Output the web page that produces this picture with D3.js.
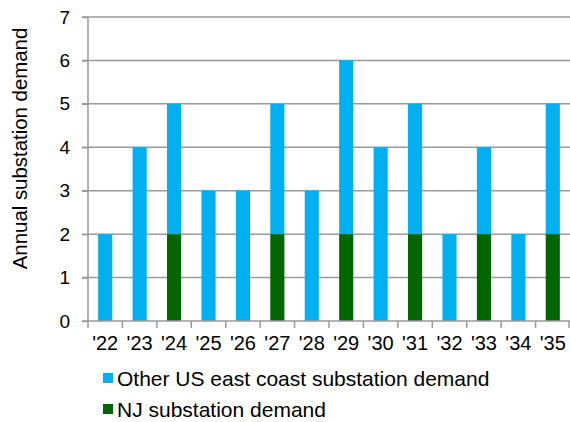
<!DOCTYPE html>
<html><head><meta charset="utf-8">
<script src="https://cdn.jsdelivr.net/npm/d3@7"></script>
<style>body{margin:0;background:#fff;} svg{display:block;font-family:"Liberation Sans",Arial,sans-serif;}</style>
</head><body>
<svg id="c" width="570" height="422"></svg>
<script>
const categories = ["'22","'23","'24","'25","'26","'27","'28","'29","'30","'31","'32","'33","'34","'35"];
const njDemand    = [0,0,2,0,0,2,0,2,0,2,0,2,0,2];
const otherDemand = [2,4,3,3,3,3,3,4,4,3,2,2,2,3];
const yTicks = [0,1,2,3,4,5,6,7];
const seriesNames = ["Other US east coast substation demand","NJ substation demand"];
const colors = {nj:"#006600", other:"#00B0F0"};

const svg = d3.select("#c");
const m = {left:88, right:570, top:17, bottom:321};
const x = d3.scaleBand().domain(categories).range([m.left, m.right]).paddingInner(0.59).paddingOuter(0.295);
const xb = d3.scaleBand().domain(categories).range([m.left, m.right]);
const y = d3.scaleLinear().domain([0,7]).range([m.bottom, m.top]);
const grid = "#9a9a9a";

// gridlines
svg.append("g").selectAll("line").data(yTicks.filter(d=>d>0)).join("line")
  .attr("x1", m.left-6).attr("x2", m.right).attr("y1", d=>y(d)).attr("y2", d=>y(d))
  .attr("stroke",grid).attr("stroke-width",1.5);

// bars
const data = categories.map((c,i)=>({c, nj:njDemand[i], other:otherDemand[i]}));
const stack = d3.stack().keys(["nj","other"])(data);
svg.append("g").selectAll("g").data(stack).join("g")
  .attr("fill", d=>colors[d.key])
  .selectAll("rect").data(d=>d).join("rect")
  .attr("x", d=>x(d.data.c)).attr("width", x.bandwidth())
  .attr("y", d=>y(d[1])).attr("height", d=>y(d[0])-y(d[1]));

// y axis
const ya = svg.append("g").attr("transform",`translate(${m.left},0)`)
  .call(d3.axisLeft(y).tickValues(yTicks).tickFormat(d3.format("d")).tickSize(6).tickPadding(12));
ya.select(".domain").attr("stroke",grid).attr("stroke-width",1.5).attr("d",`M0,${m.top}V${m.bottom}`);
ya.selectAll(".tick line").attr("stroke",grid).attr("stroke-width",1.5);
ya.selectAll("text").attr("font-size",19).attr("fill","#000").attr("font-family","Liberation Sans, Arial, sans-serif");

// x axis
const xa = svg.append("g").attr("transform",`translate(0,${m.bottom})`);
xa.append("line").attr("x1",m.left-6).attr("x2",m.right).attr("stroke",grid).attr("stroke-width",1.5);
const bounds = categories.map(c=>xb(c)).concat([m.right-1]);
xa.selectAll(".tk").data(bounds).join("line").attr("class","tk")
  .attr("x1",d=>d).attr("x2",d=>d).attr("y1",0).attr("y2",7)
  .attr("stroke",grid).attr("stroke-width",1.5);
xa.selectAll("text").data(categories).join("text")
  .attr("x", d=>xb(d)+xb.bandwidth()/2).attr("y",29)
  .attr("text-anchor","middle").attr("font-size",20).attr("fill","#000").text(d=>d);

// y title
svg.append("text").attr("transform","translate(27,148.5) rotate(-90)")
  .attr("text-anchor","middle").attr("font-size",20.4).attr("fill","#000").text("Annual substation demand");

// legend
const leg = svg.append("g");
const legItems = [{n:seriesNames[0], c:colors.other, y:386},{n:seriesNames[1], c:colors.nj, y:417}];
legItems.forEach(d=>{
  leg.append("rect").attr("x",103).attr("y",d.y-13).attr("width",10).attr("height",10).attr("fill",d.c);
  leg.append("text").attr("x",117).attr("y",d.y).attr("font-size",21).attr("fill","#000").text(d.n);
});
</script>
</body></html>
